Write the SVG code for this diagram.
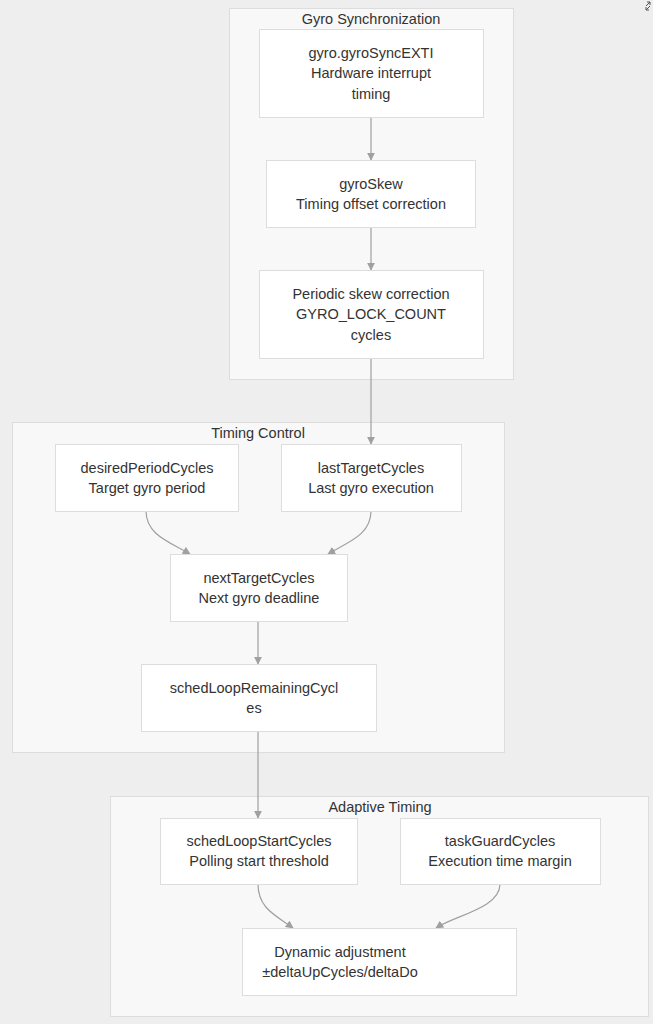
<svg xmlns="http://www.w3.org/2000/svg" width="653" height="1024" viewBox="0 0 653 1024">
<defs>
<style>
.cl{fill:#f8f8f8;stroke:#dddddd;stroke-width:1}
.nd{fill:#ffffff;stroke:#dddddd;stroke-width:1}
.t{font-family:"Liberation Sans",Arial,sans-serif;font-size:14.5px;fill:#333333;text-anchor:middle;dominant-baseline:central}
.e{fill:none;stroke:#a0a0a0;stroke-width:1.2}
</style>
<marker id="ah" viewBox="0 0 10 10" refX="9" refY="5" markerWidth="8" markerHeight="8" markerUnits="userSpaceOnUse" orient="auto">
<path d="M0,0 L10,5 L0,10 z" fill="#a0a0a0"/>
</marker>
</defs>
<rect width="653" height="1024" fill="#eeeeee"/>
<g id="cluster-gyro">
<rect class="cl" x="229.5" y="8.5" width="284" height="371"/>
<text class="t" x="371" y="19">Gyro Synchronization</text>
</g>
<g id="cluster-timing">
<rect class="cl" x="12.5" y="422.5" width="492" height="330"/>
<text class="t" x="258" y="433">Timing Control</text>
</g>
<g id="cluster-adaptive">
<rect class="cl" x="110.5" y="796.5" width="538" height="220"/>
<text class="t" x="380" y="807">Adaptive Timing</text>
</g>
<g id="connectors">
<path class="e" d="M371,117 L371,160" marker-end="url(#ah)"/>
<path class="e" d="M371,227 L371,270" marker-end="url(#ah)"/>
<path class="e" d="M371,358 L371,444" marker-end="url(#ah)"/>
<path class="e" d="M146,511 C146,535 170,542 190,554" marker-end="url(#ah)"/>
<path class="e" d="M371,511 C371,535 348,542 328,554" marker-end="url(#ah)"/>
<path class="e" d="M258,621 L258,664" marker-end="url(#ah)"/>
<path class="e" d="M258,731 L258,818" marker-end="url(#ah)"/>
<path class="e" d="M258,884 C258,908 275,915 293,928" marker-end="url(#ah)"/>
<path class="e" d="M500,884 C500,908 456,915 436,928" marker-end="url(#ah)"/>
</g>
<g id="gyroSyncEXTI">
<rect class="nd" x="259.5" y="29.5" width="224" height="88"/>
<text class="t" x="371" y="53">gyro.gyroSyncEXTI</text>
<text class="t" x="371" y="73">Hardware interrupt</text>
<text class="t" x="371" y="94">timing</text>
</g>
<g id="gyroSkew">
<rect class="nd" x="266.5" y="160.5" width="209" height="67"/>
<text class="t" x="371" y="184">gyroSkew</text>
<text class="t" x="371" y="204">Timing offset correction</text>
</g>
<g id="skewCorrection">
<rect class="nd" x="259.5" y="270.5" width="224" height="88"/>
<text class="t" x="371" y="294">Periodic skew correction</text>
<text class="t" x="371" y="314">GYRO_LOCK_COUNT</text>
<text class="t" x="371" y="335">cycles</text>
</g>
<g id="desiredPeriodCycles">
<rect class="nd" x="55.5" y="444.5" width="183" height="67"/>
<text class="t" x="147" y="468">desiredPeriodCycles</text>
<text class="t" x="147" y="488">Target gyro period</text>
</g>
<g id="lastTargetCycles">
<rect class="nd" x="281.5" y="444.5" width="180" height="67"/>
<text class="t" x="371" y="468">lastTargetCycles</text>
<text class="t" x="371" y="488">Last gyro execution</text>
</g>
<g id="nextTargetCycles">
<rect class="nd" x="170.5" y="554.5" width="177" height="67"/>
<text class="t" x="259" y="578">nextTargetCycles</text>
<text class="t" x="259" y="598">Next gyro deadline</text>
</g>
<g id="schedLoopRemainingCycles">
<rect class="nd" x="141.5" y="664.5" width="235" height="67"/>
<text class="t" x="254" y="688">schedLoopRemainingCycl</text>
<text class="t" x="254" y="708">es</text>
</g>
<g id="schedLoopStartCycles">
<rect class="nd" x="160.5" y="818.5" width="197" height="66"/>
<text class="t" x="259" y="841">schedLoopStartCycles</text>
<text class="t" x="259" y="861">Polling start threshold</text>
</g>
<g id="taskGuardCycles">
<rect class="nd" x="400.5" y="818.5" width="200" height="66"/>
<text class="t" x="500" y="841">taskGuardCycles</text>
<text class="t" x="500" y="861">Execution time margin</text>
</g>
<g id="dynamicAdjustment">
<rect class="nd" x="242.5" y="928.5" width="274" height="67"/>
<text class="t" x="340" y="952">Dynamic adjustment</text>
<text class="t" x="340" y="972">±deltaUpCycles/deltaDo</text>
</g>
<g id="expand-icon" fill="none" stroke="#555555" stroke-width="1">
<path d="M646,6 L650,2 M647,2 L650,2 L650,5"/>
<path d="M650,6 L646,10 M646,7 L646,10 L649,10"/>
</g>
</svg>
